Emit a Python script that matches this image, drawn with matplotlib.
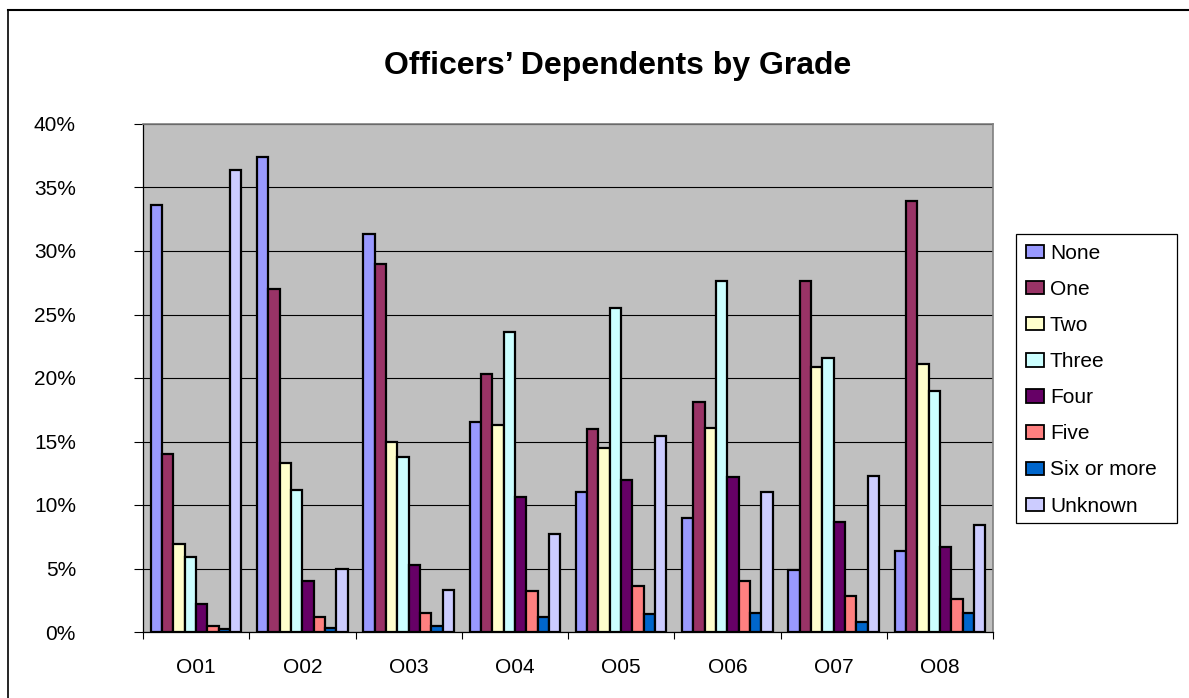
import matplotlib
matplotlib.use("Agg")
import matplotlib.pyplot as plt
import numpy as np
from matplotlib.patches import Patch, Rectangle
from matplotlib.lines import Line2D
from matplotlib.ticker import FixedLocator, PercentFormatter

plt.rcParams['font.family'] = ['Liberation Sans', 'DejaVu Sans']

grades = ["O01", "O02", "O03", "O04", "O05", "O06", "O07", "O08"]
series_names = ["None", "One", "Two", "Three", "Four", "Five", "Six or more", "Unknown"]
none_vals    = [33.6, 37.4, 31.3, 16.5, 11.0, 9.0, 4.9, 6.4]
one_vals     = [14.0, 27.0, 29.0, 20.3, 16.0, 18.1, 27.6, 33.9]
two_vals     = [6.9, 13.3, 15.0, 16.3, 14.5, 16.1, 20.9, 21.1]
three_vals   = [5.9, 11.2, 13.8, 23.6, 25.5, 27.6, 21.6, 19.0]
four_vals    = [2.2, 4.0, 5.3, 10.6, 12.0, 12.2, 8.7, 6.7]
five_vals    = [0.5, 1.2, 1.5, 3.2, 3.6, 4.0, 2.8, 2.6]
six_vals     = [0.2, 0.3, 0.5, 1.2, 1.4, 1.5, 0.8, 1.5]
unknown_vals = [36.4, 5.0, 3.3, 7.7, 15.4, 11.0, 12.3, 8.4]
all_series = [none_vals, one_vals, two_vals, three_vals, four_vals, five_vals, six_vals, unknown_vals]
colors = ["#9999FF", "#993366", "#FFFFCC", "#CCFFFF", "#660066", "#FF8080", "#0066CC", "#CCCCFF"]
yticks = [0, 5, 10, 15, 20, 25, 30, 35, 40]

W, H = 1189, 698
fig = plt.figure(figsize=(W/100, H/100), dpi=100)
ax = fig.add_axes([143/W, 1-632/H, 850/W, 508/H])
ax.set_facecolor("#C0C0C0")

n = len(series_names)
bw = 1/(n + 1.37)
x = np.arange(len(grades))
for i, (vals, c) in enumerate(zip(all_series, colors)):
    ax.bar(x + (i - (n-1)/2)*bw, vals, width=bw, color=c, edgecolor="black",
           linewidth=1.6, zorder=3)

ax.set_xlim(-0.5, len(grades)-0.5)
ax.set_ylim(0, 40)
ax.set_yticks(yticks)
ax.yaxis.set_major_formatter(PercentFormatter(decimals=0))
ax.yaxis.grid(True, color="black", linewidth=0.8, zorder=1)
ax.set_axisbelow(True)

ax.set_xticks(x)
ax.set_xticklabels(grades)
ax.xaxis.set_minor_locator(FixedLocator(np.arange(-0.5, len(grades), 1.0)))
ax.tick_params(axis='x', which='major', length=0, pad=19, labelsize=15)
ax.tick_params(axis='x', which='minor', length=5, width=0.8, direction='out')
ax.tick_params(axis='y', length=6.3, width=0.8, pad=42, labelsize=15)

for s in ['left', 'bottom']:
    ax.spines[s].set_color('black')
    ax.spines[s].set_linewidth(0.9)
for s in ['top', 'right']:
    ax.spines[s].set_color('#808080')
    ax.spines[s].set_linewidth(1.2)

fig.text(618/W, 1-74/H, "Officers\u2019 Dependents by Grade", ha='center', va='baseline',
         fontsize=23, fontweight='bold')

# legend frame
fig.add_artist(Rectangle((1016/W, 1-523/H), 161/W, 289/H, transform=fig.transFigure,
                         facecolor='white', edgecolor='black', linewidth=0.9, zorder=1))
handles = [Patch(facecolor=c, edgecolor='black', linewidth=1.3) for c in colors]
leg = fig.legend(handles, series_names, loc='upper left',
                 bbox_to_anchor=(1026/W, 1-244/H), fontsize=15,
                 frameon=False,
                 handlelength=0.85, handleheight=0.6, handletextpad=0.3,
                 labelspacing=0.82, borderpad=0, borderaxespad=0)
leg.set_zorder(2)

# outer chart border
fig.add_artist(Line2D([8/W, 8/W], [0, 1-10/H], transform=fig.transFigure, color='black', linewidth=1.2))
fig.add_artist(Line2D([8/W, 1], [1-10/H, 1-10/H], transform=fig.transFigure, color='black', linewidth=1.5))

fig.savefig("out.png", dpi=100)
